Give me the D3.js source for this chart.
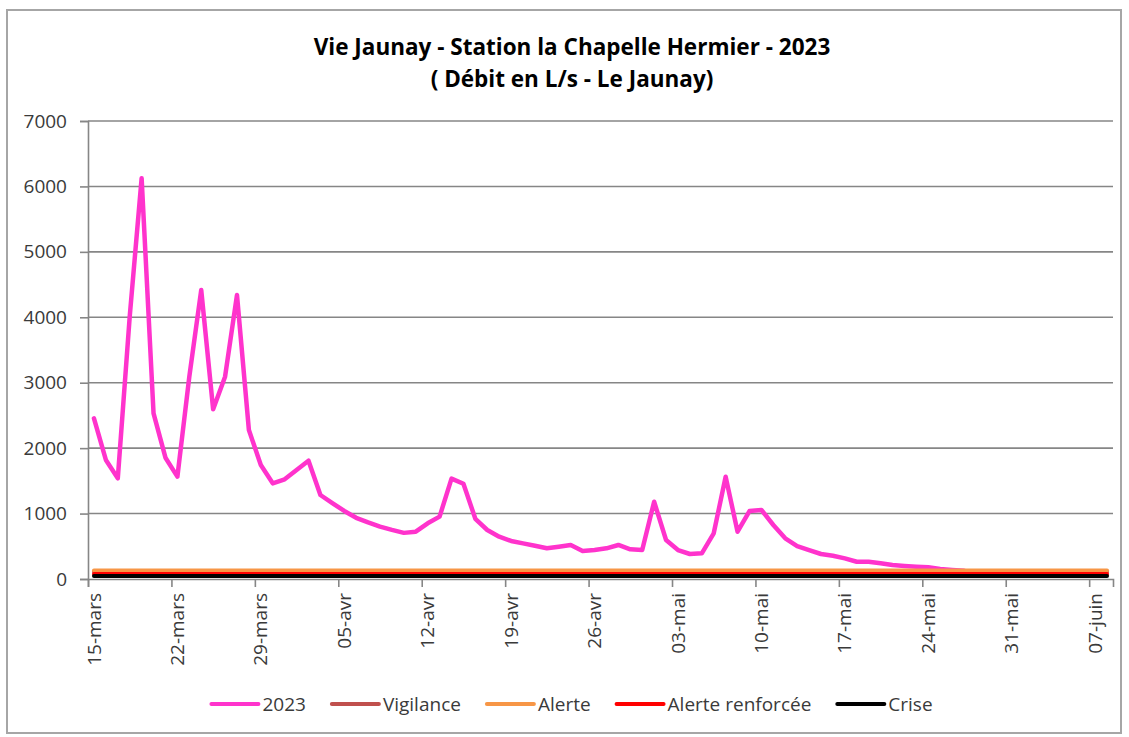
<!DOCTYPE html>
<html>
<head>
<meta charset="utf-8">
<script src="https://cdn.jsdelivr.net/npm/d3@7"></script>
<style>
body { margin: 0; background: #fff; }
svg text { font-family: "Open Sans", sans-serif; fill: #3a3a3a; }
</style>
</head>
<body>
<svg id="chart" width="1129" height="737"></svg>
<script>
// Data
const first_day = '2023-03-15';
const end_day = '2023-06-09';

// daily flow in L/s, from 15-mars
const flow_2023 = [
    2455, 1819, 1539, 4010, 6124, 2532, 1854, 1564, 3092, 4417,
    2593, 3092, 4340, 2277, 1742, 1462, 1523,
    1666, 1808, 1284, 1160, 1040, 935, 865, 800, 750, 705,
    723, 851, 953, 1535, 1455, 920, 749, 647, 581, 545,
    509, 469, 494, 520, 428, 443, 469, 520, 454, 443,
    1181, 596, 443, 382, 393, 698, 1564, 723, 1039, 1055,
    825, 622, 504, 443, 382, 356, 316, 264, 264, 240,
    214, 199, 188, 179, 153, 138, 127
];

const threshold_names = ['Vigilance', 'Alerte', 'Alerte renforcée', 'Crise'];
const threshold_levels = [110, 130, 75, 45];

const y_ticks = [0, 1000, 2000, 3000, 4000, 5000, 6000, 7000];
const tick_days = ['2023-03-15', '2023-03-22', '2023-03-29', '2023-04-05', '2023-04-12',
    '2023-04-19', '2023-04-26', '2023-05-03', '2023-05-10', '2023-05-17',
    '2023-05-24', '2023-05-31', '2023-06-07'];
const tick_labels = ['15-mars', '22-mars', '29-mars', '05-avr', '12-avr', '19-avr', '26-avr',
    '03-mai', '10-mai', '17-mai', '24-mai', '31-mai', '07-juin'];

const title_lines = ['Vie Jaunay - Station la Chapelle Hermier - 2023', '( Débit en L/s - Le Jaunay)'];
const legend_names = ['2023'].concat(threshold_names);

// Render params
const colors = ['#ff33cc', '#c0504d', '#f79646', '#ff0000', '#000000'];
const plot = { left: 88, right: 1113, top: 121, bottom: 579 };
const grid_color = '#868686';

const parse = d3.timeParse('%Y-%m-%d');
const mid_day = d => d3.timeHour.offset(d, 12);

const svg = d3.select('#chart');

// outer frame
svg.append('rect')
    .attr('x', 7).attr('y', 10)
    .attr('width', 1114).attr('height', 723)
    .attr('fill', 'none')
    .attr('stroke', '#a6a6a6')
    .attr('stroke-width', 2);

const x = d3.scaleTime()
    .domain([parse(first_day), parse(end_day)])
    .range([plot.left, plot.right]);

const y = d3.scaleLinear()
    .domain([0, 7000])
    .range([plot.bottom, plot.top]);

// grid
svg.append('g')
    .selectAll('line')
    .data(y_ticks.filter(d => d > 0))
    .join('line')
    .attr('x1', plot.left).attr('x2', plot.right)
    .attr('y1', d => y(d)).attr('y2', d => y(d))
    .attr('stroke', grid_color)
    .attr('stroke-width', 1.6);

// y axis
let y_axis = svg.append('g')
    .attr('transform', `translate(${plot.left}, 0)`)
    .call(d3.axisLeft(y).tickValues(y_ticks).tickSize(8).tickPadding(13).tickFormat(d3.format('d')));
y_axis.select('.domain').attr('stroke', grid_color).attr('stroke-width', 1.6);
y_axis.selectAll('.tick line').attr('stroke', grid_color).attr('stroke-width', 1.6);
y_axis.selectAll('.tick text').attr('font-size', 19).attr('fill', '#3a3a3a');

// x axis
const tick_dates = tick_days.map(parse);
let x_axis = svg.append('g')
    .attr('transform', `translate(0, ${plot.bottom})`)
    .call(d3.axisBottom(x).tickValues(tick_dates).tickSize(8).tickFormat(''));
x_axis.select('.domain').attr('stroke', grid_color).attr('stroke-width', 1.6);
x_axis.selectAll('.tick line').attr('stroke', grid_color).attr('stroke-width', 1.6);

svg.append('g')
    .selectAll('text')
    .data(tick_dates)
    .join('text')
    .attr('transform', d => `translate(${x(mid_day(d))}, ${plot.bottom + 14}) rotate(-90)`)
    .attr('text-anchor', 'end')
    .attr('dy', '0.35em')
    .attr('font-size', 19)
    .text((d, i) => tick_labels[i]);

// series
const start = parse(first_day);
const line = d3.line()
    .x(d => x(mid_day(d.day)))
    .y(d => y(d.value));

const all_days = d3.timeDay.range(start, parse(end_day));
const series = [flow_2023.map((v, i) => ({ day: d3.timeDay.offset(start, i), value: v }))]
    .concat(threshold_levels.map(level => all_days.map(day => ({ day: day, value: level }))));

svg.append('g')
    .selectAll('path')
    .data(series)
    .join('path')
    .attr('d', line)
    .attr('fill', 'none')
    .attr('stroke', (d, i) => colors[i])
    .attr('stroke-width', (d, i) => i == 0 ? 4.5 : 4)
    .attr('stroke-linejoin', 'round')
    .attr('stroke-linecap', 'round');

// title
svg.append('g')
    .selectAll('text')
    .data(title_lines)
    .join('text')
    .attr('x', 572)
    .attr('y', (d, i) => 55 + i * 32)
    .attr('text-anchor', 'middle')
    .attr('font-size', 22.5)
    .attr('font-weight', 700)
    .style('fill', '#000')
    .text(d => d);

// legend
let legend = svg.append('g');
let cursor = 0;
legend_names.forEach((name, i) => {
    let item = legend.append('g').attr('transform', `translate(${cursor}, 0)`);
    item.append('line')
        .attr('x1', 0).attr('x2', 47)
        .attr('stroke', colors[i])
        .attr('stroke-width', 4)
        .attr('stroke-linecap', 'round');
    let label = item.append('text')
        .attr('x', 51)
        .attr('dy', '0.35em')
        .attr('font-size', 19)
        .text(name);
    cursor += 51 + label.node().getComputedTextLength() + 26;
});
const legend_width = cursor - 26;
legend.attr('transform', `translate(${572 - legend_width / 2}, 704)`);
</script>
</body>
</html>
